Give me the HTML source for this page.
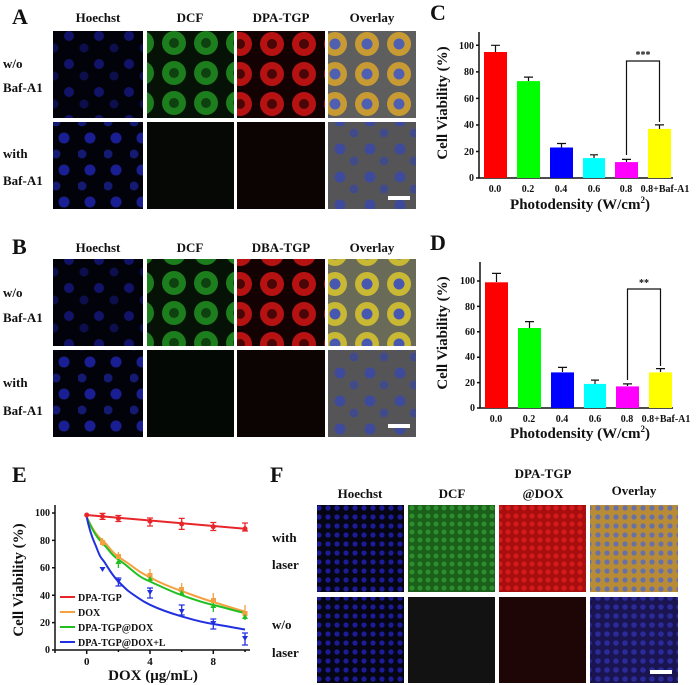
<!DOCTYPE html>
<html><head><meta charset="utf-8"><style>
html,body{margin:0;padding:0;background:#fff}
svg{display:block}
text{font-family:"Liberation Serif",serif;font-weight:bold;fill:#111}
</style></head><body>
<svg width="700" height="685" viewBox="0 0 700 685" xmlns="http://www.w3.org/2000/svg">
<defs>
 <pattern id="nuc" width="30" height="28" patternUnits="userSpaceOnUse">
  <rect width="30" height="28" fill="#02020a"/>
  <circle cx="9" cy="8" r="5" fill="#1a1ea8" opacity=".6"/>
  <circle cx="24" cy="20" r="4.5" fill="#1a1ea0" opacity=".45"/>
 </pattern>
 <pattern id="nuc2" width="26" height="32" patternUnits="userSpaceOnUse">
  <rect width="26" height="32" fill="#02020a"/>
  <circle cx="12" cy="10" r="5.5" fill="#2028c0" opacity=".75"/>
  <circle cx="4" cy="26" r="4.5" fill="#2028b8" opacity=".6"/>
 </pattern>
 <pattern id="grn" width="32" height="30" patternUnits="userSpaceOnUse">
  <rect width="32" height="30" fill="#051205"/>
  <circle cx="14" cy="13" r="12" fill="#1f8a1f" opacity=".9"/>
  <circle cx="14" cy="13" r="5" fill="#0f400f"/>
 </pattern>
 <pattern id="red" width="32" height="30" patternUnits="userSpaceOnUse">
  <rect width="32" height="30" fill="#140202"/>
  <circle cx="16" cy="14" r="12" fill="#c81414" opacity=".9"/>
  <circle cx="16" cy="14" r="5" fill="#480606"/>
 </pattern>
 <pattern id="ovl" width="32" height="30" patternUnits="userSpaceOnUse">
  <rect width="32" height="30" fill="#5e5e5e"/>
  <circle cx="15" cy="14" r="12" fill="#c89a34"/>
  <circle cx="15" cy="14" r="5.5" fill="#5060b0"/>
 </pattern>
 <pattern id="ovlB" width="32" height="30" patternUnits="userSpaceOnUse">
  <rect width="32" height="30" fill="#6a6a58"/>
  <circle cx="15" cy="14" r="12" fill="#c8b834"/>
  <circle cx="15" cy="14" r="5.5" fill="#4858b0"/>
 </pattern>
 <pattern id="ovlD" width="30" height="28" patternUnits="userSpaceOnUse">
  <rect width="30" height="28" fill="#555558"/>
  <circle cx="10" cy="9" r="5.5" fill="#3a48a8" opacity=".85"/>
  <circle cx="24" cy="21" r="4.5" fill="#3a48a0" opacity=".7"/>
 </pattern>
 <pattern id="fnuc" width="9" height="9" patternUnits="userSpaceOnUse">
  <rect width="9" height="9" fill="#050514"/>
  <circle cx="4" cy="4" r="2.6" fill="#1c1c98"/>
 </pattern>
 <pattern id="fgrn" width="8" height="8" patternUnits="userSpaceOnUse">
  <rect width="8" height="8" fill="#1a601a"/>
  <circle cx="4" cy="4" r="2.5" fill="#2e8e2e"/>
 </pattern>
 <pattern id="fred" width="8" height="8" patternUnits="userSpaceOnUse">
  <rect width="8" height="8" fill="#a80e0e"/>
  <circle cx="4" cy="4" r="2.5" fill="#d41c1c"/>
 </pattern>
 <pattern id="fovl" width="9" height="9" patternUnits="userSpaceOnUse">
  <rect width="9" height="9" fill="#b88c36"/>
  <circle cx="4" cy="4" r="2.6" fill="#6870a8"/>
 </pattern>
 <pattern id="fovl2" width="9" height="9" patternUnits="userSpaceOnUse">
  <rect width="9" height="9" fill="#1a1450"/>
  <circle cx="4" cy="4" r="2.8" fill="#2a2a98"/>
 </pattern>
</defs>

<!-- Panel A -->
<text x="12" y="24" font-size="22">A</text>
<g font-size="13" text-anchor="middle">
 <text x="98" y="22">Hoechst</text><text x="190" y="22">DCF</text><text x="281" y="22">DPA-TGP</text><text x="372" y="22">Overlay</text>
</g>
<g font-size="13">
 <text x="3" y="68">w/o</text><text x="3" y="92">Baf-A1</text>
 <text x="3" y="158">with</text><text x="3" y="185">Baf-A1</text>
</g>
<rect x="53" y="31" width="90" height="87" fill="url(#nuc)"/>
<rect x="147" y="31" width="87" height="87" fill="url(#grn)"/>
<rect x="237" y="31" width="88" height="87" fill="url(#red)"/>
<rect x="328" y="31" width="88" height="87" fill="url(#ovl)"/>
<rect x="53" y="122" width="90" height="87" fill="url(#nuc2)"/>
<rect x="147" y="122" width="87" height="87" fill="#050805"/>
<rect x="237" y="122" width="88" height="87" fill="#0c0303"/>
<rect x="328" y="122" width="88" height="87" fill="url(#ovlD)"/>
<rect x="388" y="196" width="22" height="4" fill="#fff"/>

<!-- Panel B -->
<text x="12" y="254" font-size="22">B</text>
<g font-size="13" text-anchor="middle">
 <text x="98" y="252">Hoechst</text><text x="190" y="252">DCF</text><text x="281" y="252">DBA-TGP</text><text x="372" y="252">Overlay</text>
</g>
<g font-size="13">
 <text x="3" y="297">w/o</text><text x="3" y="322">Baf-A1</text>
 <text x="3" y="387">with</text><text x="3" y="415">Baf-A1</text>
</g>
<rect x="53" y="259" width="90" height="87" fill="url(#nuc)"/>
<rect x="147" y="259" width="87" height="87" fill="url(#grn)"/>
<rect x="237" y="259" width="88" height="87" fill="url(#red)"/>
<rect x="328" y="259" width="88" height="87" fill="url(#ovlB)"/>
<rect x="53" y="350" width="90" height="87" fill="url(#nuc2)"/>
<rect x="147" y="350" width="87" height="87" fill="#040804"/>
<rect x="237" y="350" width="88" height="87" fill="#0c0303"/>
<rect x="328" y="350" width="88" height="87" fill="url(#ovlD)"/>
<rect x="388" y="424" width="22" height="4" fill="#fff"/>

<!-- Panel C -->
<text x="430" y="20" font-size="22">C</text>
<g stroke="#111" stroke-width="1.5" fill="none">
 <path d="M479 32V178H673"/>
 <path d="M476 178H479M476 151.5H479M476 125H479M476 98.4H479M476 71.9H479M476 45.3H479"/>
</g>
<g font-size="10" text-anchor="end">
 <text x="474" y="181">0</text><text x="474" y="155">20</text><text x="474" y="128">40</text><text x="474" y="102">60</text><text x="474" y="75">80</text><text x="474" y="49">100</text>
</g>
<g>
 <rect x="484" y="52" width="23" height="126" fill="#f00"/>
 <rect x="517" y="81.1" width="23" height="96.9" fill="#0f0"/>
 <rect x="550" y="147.5" width="23" height="30.5" fill="#00f"/>
 <rect x="583" y="158.1" width="22" height="19.9" fill="#0ff"/>
 <rect x="615" y="162.1" width="23" height="15.9" fill="#f0f"/>
 <rect x="648" y="128.9" width="23" height="49.1" fill="#ff0"/>
</g>
<g stroke="#111" stroke-width="1.2" fill="none">
 <path d="M495.5 52V45.3M491 45.3H500"/>
 <path d="M528.5 81V77.1M524 77.1H533"/>
 <path d="M561.5 147.5V143.5M557 143.5H566"/>
 <path d="M594 158V154.8M590 154.8H598"/>
 <path d="M626.5 162V159.4M622 159.4H631"/>
 <path d="M659.5 129V124.9M655 124.9H664"/>
 <path d="M626.5 155V61H659.5V122"/>
</g>
<text x="643" y="58" font-size="10" text-anchor="middle">***</text>
<g font-size="10" text-anchor="middle">
 <text x="495" y="192">0.0</text><text x="528" y="192">0.2</text><text x="561" y="192">0.4</text><text x="594" y="192">0.6</text><text x="626" y="192">0.8</text><text x="665" y="192">0.8+Baf-A1</text>
</g>
<text x="580" y="209" font-size="15" text-anchor="middle">Photodensity (W/cm<tspan font-size="9" dy="-6">2</tspan><tspan dy="6">)</tspan></text>
<text transform="translate(447,103) rotate(-90)" font-size="15" text-anchor="middle">Cell Viability (%)</text>

<!-- Panel D -->
<text x="430" y="250" font-size="22">D</text>
<g stroke="#111" stroke-width="1.5" fill="none">
 <path d="M480 262V408H673"/>
 <path d="M477 408H480M477 382.6H480M477 357.2H480M477 331.8H480M477 306.4H480M477 281H480"/>
</g>
<g font-size="10" text-anchor="end">
 <text x="475" y="411">0</text><text x="475" y="386">20</text><text x="475" y="360">40</text><text x="475" y="335">60</text><text x="475" y="310">80</text><text x="475" y="284">100</text>
</g>
<g>
 <rect x="485" y="282.3" width="23" height="125.7" fill="#f00"/>
 <rect x="518" y="328" width="23" height="80" fill="#0f0"/>
 <rect x="551" y="372.4" width="23" height="35.6" fill="#00f"/>
 <rect x="584" y="383.9" width="22" height="24.1" fill="#0ff"/>
 <rect x="616" y="386.4" width="23" height="21.6" fill="#f0f"/>
 <rect x="649" y="372.4" width="23" height="35.6" fill="#ff0"/>
</g>
<g stroke="#111" stroke-width="1.2" fill="none">
 <path d="M496.5 282V273.4M492 273.4H501"/>
 <path d="M529.5 328V321.6M525 321.6H534"/>
 <path d="M562.5 372V367.4M558 367.4H567"/>
 <path d="M595 384V380.1M591 380.1H599"/>
 <path d="M627.5 386V383.9M623 383.9H632"/>
 <path d="M660.5 372V368.6M656 368.6H665"/>
 <path d="M627.5 380V289H660.5V366"/>
</g>
<text x="644" y="286" font-size="10" text-anchor="middle">**</text>
<g font-size="10" text-anchor="middle">
 <text x="496" y="422">0.0</text><text x="529" y="422">0.2</text><text x="562" y="422">0.4</text><text x="595" y="422">0.6</text><text x="627" y="422">0.8</text><text x="666" y="422">0.8+Baf-A1</text>
</g>
<text x="580" y="438" font-size="15" text-anchor="middle">Photodensity (W/cm<tspan font-size="9" dy="-6">2</tspan><tspan dy="6">)</tspan></text>
<text transform="translate(447,333) rotate(-90)" font-size="15" text-anchor="middle">Cell Viability (%)</text>

<!-- Panel E -->
<text x="12" y="482" font-size="22">E</text>
<g stroke="#111" stroke-width="1.5" fill="none">
 <path d="M55 505V650H250"/>
 <path d="M52 650H55M52 622.6H55M52 595.2H55M52 567.8H55M52 540.4H55M52 513H55"/>
 <path d="M86.7 650V654M150 650V654M213.3 650V654M55 650V653M118.4 650V652M181.7 650V652M245 650V652"/>
</g>
<g font-size="10" text-anchor="end">
 <text x="50" y="653">0</text><text x="50" y="626">20</text><text x="50" y="599">40</text><text x="50" y="571">60</text><text x="50" y="544">80</text><text x="50" y="516">100</text>
</g>
<g font-size="11" text-anchor="middle">
 <text x="86.7" y="665">0</text><text x="150" y="665">4</text><text x="213.3" y="665">8</text>
</g>
<text x="153" y="680" font-size="15" text-anchor="middle">DOX (μg/mL)</text>
<text transform="translate(23,580) rotate(-90)" font-size="15" text-anchor="middle">Cell Viability (%)</text>
<g fill="none" stroke-width="2">
 <path d="M86.7 515L245 528.8" stroke="#e8262a"/>
 <path d="M86.7 517.1C92 528 96 535 102.5 540.4S110 551 118.4 556.8S128 563 134.2 567.8S142 573 150 577.4S170 587 181.7 591.1S200 598 213.3 602S235 609 245 611.6" stroke="#f5a040"/>
 <path d="M86.7 517.1C92 529 96 537 102.5 543.1S110 554 118.4 559.6S128 567 134.2 572S142 578 150 581.5S170 591 181.7 595.2S200 602 213.3 605S235 611 245 613" stroke="#20c020"/>
 <path d="M86.7 517.1C89 528 91 535 94.6 543S99 556 102.5 559.6S110 573 118.4 581.5S128 591 134.2 595.2S142 601 150 604.8S170 613 181.7 616.4S200 622 213.3 624S235 628 245 629.5" stroke="#2030e0"/>
</g>
<g stroke-width="1.3" fill="none">
 <path d="M102.5 513.4v6M99.5 513.4h6M99.5 519.4h6M118.4 515.5v6M115.4 515.5h6M115.4 521.5h6M150 518v8M147 518h6M147 526h6M181.7 518.4v11M178.7 518.4h6M178.7 529.4h6M213.3 522.5v8M210.3 522.5h6M210.3 530.5h6M245 523v8M242 523h6M242 531h6" stroke="#e8262a"/>
 <path d="M102.5 538v8M118.4 552v8M150 569v10M181.7 583v12M213.3 593v10M245 605v10" stroke="#f5a040"/>
 <path d="M118.4 558v10M150 574v8M181.7 587v8M213.3 600v12M245 612v8" stroke="#20c020"/>
 <path d="M118.4 578v8M115.4 578h6M115.4 586h6M150 588v10M147 588h6M147 598h6M181.7 605v10M178.7 605h6M178.7 615h6M213.3 619v10M210.3 619h6M210.3 629h6M245 633v12M242 633h6M242 645h6" stroke="#2030e0"/>
</g>
<g>
 <circle cx="86.7" cy="515" r="2.5" fill="#e8262a"/><circle cx="102.5" cy="516.4" r="2.5" fill="#e8262a"/><circle cx="118.4" cy="518.5" r="2.5" fill="#e8262a"/><circle cx="150" cy="521.2" r="2.5" fill="#e8262a"/><circle cx="181.7" cy="524" r="2.5" fill="#e8262a"/><circle cx="213.3" cy="526.7" r="2.5" fill="#e8262a"/><circle cx="245" cy="528.8" r="2.5" fill="#e8262a"/>
 <rect x="100" y="540" width="5" height="5" fill="#f5a040"/><rect x="116" y="554" width="5" height="5" fill="#f5a040"/><rect x="147.5" y="573" width="5" height="5" fill="#f5a040"/><rect x="179" y="587" width="5" height="5" fill="#f5a040"/><rect x="211" y="598" width="5" height="5" fill="#f5a040"/><rect x="242.5" y="611" width="5" height="5" fill="#f5a040"/>
 <path d="M118.4 559l3 5h-6zM150 576l3 5h-6zM181.7 590l3 5h-6zM213.3 603l3 5h-6zM245 614l3 5h-6z" fill="#20c020"/>
 <path d="M99.5 567h6l-3 5zM115.4 579h6l-3 5zM147 590h6l-3 5zM178.7 609h6l-3 5zM210.3 621h6l-3 5zM242 636h6l-3 5z" fill="#2030e0"/>
</g>
<g stroke-width="2">
 <path d="M60 597H75" stroke="#e8262a"/><path d="M60 612H75" stroke="#f5a040"/><path d="M60 627H75" stroke="#20c020"/><path d="M60 642H75" stroke="#2030e0"/>
</g>
<g font-size="10">
 <text x="78" y="601">DPA-TGP</text><text x="78" y="616">DOX</text><text x="78" y="631">DPA-TGP@DOX</text><text x="78" y="646">DPA-TGP@DOX+L</text>
</g>

<!-- Panel F -->
<text x="270" y="482" font-size="22">F</text>
<g font-size="13" text-anchor="middle">
 <text x="360" y="498">Hoechst</text><text x="452" y="498">DCF</text><text x="543" y="478">DPA-TGP</text><text x="543" y="498">@DOX</text><text x="634" y="495">Overlay</text>
</g>
<g font-size="13">
 <text x="272" y="542">with</text><text x="272" y="569">laser</text>
 <text x="272" y="629">w/o</text><text x="272" y="657">laser</text>
</g>
<rect x="317" y="505" width="87" height="87" fill="url(#fnuc)"/>
<rect x="408" y="505" width="87" height="87" fill="url(#fgrn)"/>
<rect x="499" y="505" width="87" height="87" fill="url(#fred)"/>
<rect x="590" y="505" width="88" height="87" fill="url(#fovl)"/>
<rect x="317" y="597" width="87" height="86" fill="url(#fnuc)"/>
<rect x="408" y="597" width="87" height="86" fill="#121212"/>
<rect x="499" y="597" width="87" height="86" fill="#1e0606"/>
<rect x="590" y="597" width="88" height="86" fill="url(#fovl2)"/>
<rect x="650" y="670" width="22" height="4" fill="#fff"/>
</svg>
</body></html>
